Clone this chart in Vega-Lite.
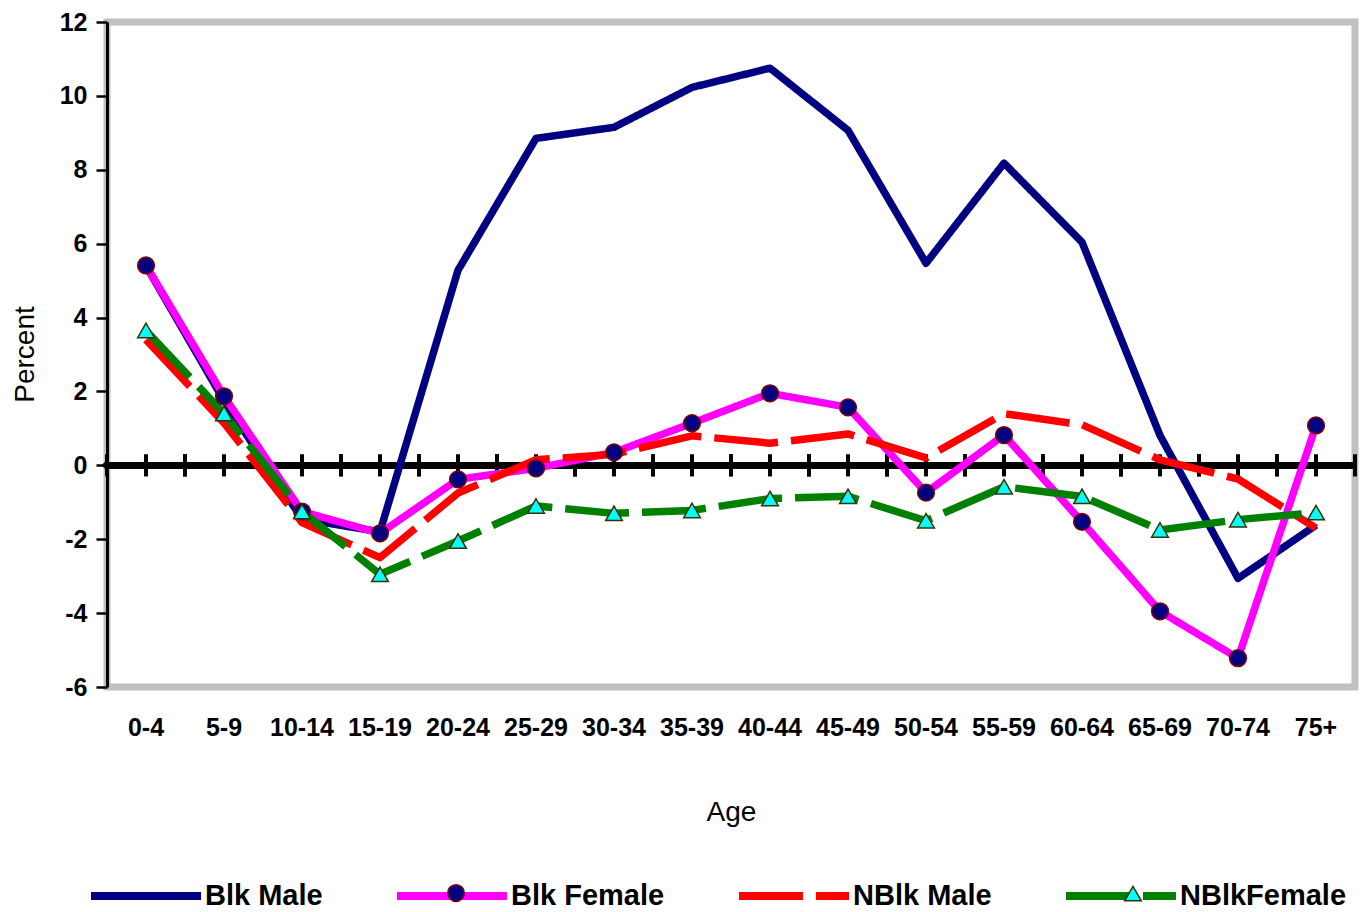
{
  "$schema": "https://vega.github.io/schema/vega-lite/v6.json",
  "width": 1248,
  "height": 665,
  "autosize": "none",
  "padding": {"left": 107, "top": 22, "right": 7, "bottom": 225},
  "background": "white",
  "config": {
    "font": "Liberation Sans",
    "view": {"stroke": "#C0C0C0", "strokeWidth": 7},
    "axis": {
      "grid": false,
      "labelFont": "Liberation Sans",
      "labelFontWeight": "bold",
      "labelFontSize": 25,
      "labelColor": "black",
      "titleFont": "Liberation Sans",
      "titleFontWeight": "normal",
      "titleFontSize": 28,
      "titleColor": "black"
    },
    "axisX": {"domain": false, "ticks": false, "tickSize": 0, "labelPadding": 28, "labelAngle": 0, "titleY": 125, "titleBaseline": "middle"},
    "axisY": {"domainColor": "black", "domainWidth": 3, "tickColor": "black", "tickWidth": 2.5, "tickSize": 11, "labelPadding": 9, "titleX": -82, "titleY": 332, "titleBaseline": "middle", "titleAngle": -90}
  },
  "data": {
    "values": [
      {"Age": "0-4", "series": "Blk Male", "Percent": 5.4},
      {"Age": "5-9", "series": "Blk Male", "Percent": 1.75},
      {"Age": "10-14", "series": "Blk Male", "Percent": -1.45},
      {"Age": "15-19", "series": "Blk Male", "Percent": -1.8},
      {"Age": "20-24", "series": "Blk Male", "Percent": 5.28},
      {"Age": "25-29", "series": "Blk Male", "Percent": 8.85},
      {"Age": "30-34", "series": "Blk Male", "Percent": 9.15},
      {"Age": "35-39", "series": "Blk Male", "Percent": 10.23},
      {"Age": "40-44", "series": "Blk Male", "Percent": 10.75},
      {"Age": "45-49", "series": "Blk Male", "Percent": 9.07},
      {"Age": "50-54", "series": "Blk Male", "Percent": 5.47},
      {"Age": "55-59", "series": "Blk Male", "Percent": 8.18},
      {"Age": "60-64", "series": "Blk Male", "Percent": 6.04},
      {"Age": "65-69", "series": "Blk Male", "Percent": 0.81},
      {"Age": "70-74", "series": "Blk Male", "Percent": -3.06},
      {"Age": "75+", "series": "Blk Male", "Percent": -1.62},
      {"Age": "0-4", "series": "Blk Female", "Percent": 5.41},
      {"Age": "5-9", "series": "Blk Female", "Percent": 1.87},
      {"Age": "10-14", "series": "Blk Female", "Percent": -1.25},
      {"Age": "15-19", "series": "Blk Female", "Percent": -1.84},
      {"Age": "20-24", "series": "Blk Female", "Percent": -0.38},
      {"Age": "25-29", "series": "Blk Female", "Percent": -0.08},
      {"Age": "30-34", "series": "Blk Female", "Percent": 0.35},
      {"Age": "35-39", "series": "Blk Female", "Percent": 1.14},
      {"Age": "40-44", "series": "Blk Female", "Percent": 1.95},
      {"Age": "45-49", "series": "Blk Female", "Percent": 1.57},
      {"Age": "50-54", "series": "Blk Female", "Percent": -0.74},
      {"Age": "55-59", "series": "Blk Female", "Percent": 0.82},
      {"Age": "60-64", "series": "Blk Female", "Percent": -1.53},
      {"Age": "65-69", "series": "Blk Female", "Percent": -3.95},
      {"Age": "70-74", "series": "Blk Female", "Percent": -5.22},
      {"Age": "75+", "series": "Blk Female", "Percent": 1.08},
      {"Age": "0-4", "series": "NBlk Male", "Percent": 3.4},
      {"Age": "5-9", "series": "NBlk Male", "Percent": 1.15},
      {"Age": "10-14", "series": "NBlk Male", "Percent": -1.55},
      {"Age": "15-19", "series": "NBlk Male", "Percent": -2.5},
      {"Age": "20-24", "series": "NBlk Male", "Percent": -0.75},
      {"Age": "25-29", "series": "NBlk Male", "Percent": 0.15},
      {"Age": "30-34", "series": "NBlk Male", "Percent": 0.3},
      {"Age": "35-39", "series": "NBlk Male", "Percent": 0.8},
      {"Age": "40-44", "series": "NBlk Male", "Percent": 0.6},
      {"Age": "45-49", "series": "NBlk Male", "Percent": 0.85},
      {"Age": "50-54", "series": "NBlk Male", "Percent": 0.2},
      {"Age": "55-59", "series": "NBlk Male", "Percent": 1.4},
      {"Age": "60-64", "series": "NBlk Male", "Percent": 1.1},
      {"Age": "65-69", "series": "NBlk Male", "Percent": 0.15},
      {"Age": "70-74", "series": "NBlk Male", "Percent": -0.37},
      {"Age": "75+", "series": "NBlk Male", "Percent": -1.7},
      {"Age": "0-4", "series": "NBlkFemale", "Percent": 3.65},
      {"Age": "5-9", "series": "NBlkFemale", "Percent": 1.4},
      {"Age": "10-14", "series": "NBlkFemale", "Percent": -1.25},
      {"Age": "15-19", "series": "NBlkFemale", "Percent": -2.95},
      {"Age": "20-24", "series": "NBlkFemale", "Percent": -2.05},
      {"Age": "25-29", "series": "NBlkFemale", "Percent": -1.1},
      {"Age": "30-34", "series": "NBlkFemale", "Percent": -1.3},
      {"Age": "35-39", "series": "NBlkFemale", "Percent": -1.22},
      {"Age": "40-44", "series": "NBlkFemale", "Percent": -0.9},
      {"Age": "45-49", "series": "NBlkFemale", "Percent": -0.84},
      {"Age": "50-54", "series": "NBlkFemale", "Percent": -1.5},
      {"Age": "55-59", "series": "NBlkFemale", "Percent": -0.58},
      {"Age": "60-64", "series": "NBlkFemale", "Percent": -0.84},
      {"Age": "65-69", "series": "NBlkFemale", "Percent": -1.75},
      {"Age": "70-74", "series": "NBlkFemale", "Percent": -1.47},
      {"Age": "75+", "series": "NBlkFemale", "Percent": -1.28}
    ]
  },
  "layer": [
    {
      "mark": {"type": "rule", "color": "black", "strokeWidth": 6},
      "encoding": {"y": {"datum": 0, "type": "quantitative"}}
    },
    {
      "transform": [{"filter": "datum.series === 'Blk Male'"}],
      "mark": {"type": "rule", "color": "black", "strokeWidth": 4},
      "encoding": {
        "x": {"field": "Age", "type": "ordinal", "sort": null, "bandPosition": 0, "scale": {"type": "band", "paddingInner": 0, "paddingOuter": 0}},
        "y": {"datum": -0.3, "type": "quantitative"},
        "y2": {"datum": 0.3}
      }
    },
    {
      "transform": [{"filter": "datum.series === 'Blk Male'"}],
      "mark": {"type": "rule", "color": "black", "strokeWidth": 4},
      "encoding": {
        "x": {"field": "Age", "type": "ordinal", "sort": null, "bandPosition": 0.5, "scale": {"type": "band", "paddingInner": 0, "paddingOuter": 0}},
        "y": {"datum": -0.3, "type": "quantitative"},
        "y2": {"datum": 0.3}
      }
    },
    {
      "transform": [{"filter": "datum.series === 'Blk Male'"}],
      "mark": {"type": "rule", "color": "black", "strokeWidth": 4},
      "encoding": {
        "x": {"field": "Age", "type": "ordinal", "sort": null, "bandPosition": 1, "scale": {"type": "band", "paddingInner": 0, "paddingOuter": 0}},
        "y": {"datum": -0.3, "type": "quantitative"},
        "y2": {"datum": 0.3}
      }
    },
    {
      "transform": [{"filter": "datum.series === 'Blk Male'"}],
      "mark": {"type": "point", "shape": "diamond", "filled": true, "color": "black", "size": 120, "opacity": 1},
      "encoding": {
        "x": {"field": "Age", "type": "ordinal", "sort": null, "bandPosition": 0, "scale": {"type": "band", "paddingInner": 0, "paddingOuter": 0}},
        "y": {"datum": 0, "type": "quantitative"}
      }
    },
    {
      "transform": [{"filter": "datum.series === 'Blk Male'"}],
      "mark": {"type": "point", "shape": "diamond", "filled": true, "color": "black", "size": 120, "opacity": 1},
      "encoding": {
        "x": {"field": "Age", "type": "ordinal", "sort": null, "bandPosition": 0.5, "scale": {"type": "band", "paddingInner": 0, "paddingOuter": 0}},
        "y": {"datum": 0, "type": "quantitative"}
      }
    },
    {
      "mark": {"type": "line", "strokeWidth": 7.5, "strokeCap": "butt", "strokeJoin": "round"},
      "encoding": {
        "x": {"field": "Age", "type": "ordinal", "sort": null, "scale": {"type": "band", "paddingInner": 0, "paddingOuter": 0}},
        "y": {"field": "Percent", "type": "quantitative", "scale": {"domain": [-6, 12], "nice": false, "zero": false}, "axis": {"values": [-6, -4, -2, 0, 2, 4, 6, 8, 10, 12], "labelExpr": "'' + datum.value"}},
        "color": {
          "field": "series", "type": "nominal",
          "scale": {"domain": ["Blk Male", "Blk Female", "NBlk Male", "NBlkFemale"], "range": ["#000080", "#FF00FF", "#FF0000", "#008000"]},
          "legend": {
            "title": null, "orient": "none", "legendX": -20, "legendY": 815, "direction": "horizontal", "columns": 4,
            "columnPadding": 58, "symbolType": "stroke", "symbolSize": 12100, "symbolStrokeWidth": 8,
            "labelFont": "Liberation Sans", "labelFontSize": 29, "labelFontWeight": "bold", "labelColor": "black",
            "labelOffset": 0, "padding": 0, "labelLimit": 400
          }
        },
        "strokeDash": {
          "field": "series", "type": "nominal",
          "scale": {"domain": ["Blk Male", "Blk Female", "NBlk Male", "NBlkFemale"], "range": [[1, 0], [1, 0], [64, 13], [64, 13]]},
          "legend": {
            "title": null, "orient": "none", "legendX": -20, "legendY": 815, "direction": "horizontal", "columns": 4,
            "columnPadding": 58, "symbolType": "stroke", "symbolSize": 12100, "symbolStrokeWidth": 8,
            "labelFont": "Liberation Sans", "labelFontSize": 29, "labelFontWeight": "bold", "labelColor": "black",
            "labelOffset": 0, "padding": 0, "labelLimit": 400
          }
        }
      }
    },
    {
      "transform": [{"filter": "datum.series === 'Blk Female' || datum.series === 'NBlkFemale'"}],
      "mark": {"type": "point", "filled": true, "opacity": 1, "strokeWidth": 1.5, "size": 280},
      "encoding": {
        "x": {"field": "Age", "type": "ordinal", "sort": null, "scale": {"type": "band", "paddingInner": 0, "paddingOuter": 0}},
        "y": {"field": "Percent", "type": "quantitative"},
        "shape": {"field": "series", "type": "nominal", "scale": {"domain": ["Blk Female", "NBlkFemale"], "range": ["circle", "triangle-up"]},
          "legend": {"title": null, "orient": "none", "legendX": 339.5, "legendY": 861.5, "direction": "horizontal", "columns": 2,
            "columnPadding": 650, "symbolSize": 280, "symbolStrokeWidth": 1.5, "labelFontSize": 1, "labelOpacity": 0, "labelOffset": 0, "padding": 0}},
        "fill": {"field": "series", "type": "nominal", "scale": {"domain": ["Blk Female", "NBlkFemale"], "range": ["#000080", "#00FFFF"]},
          "legend": {"title": null, "orient": "none", "legendX": 339.5, "legendY": 861.5, "direction": "horizontal", "columns": 2,
            "columnPadding": 650, "symbolSize": 280, "symbolStrokeWidth": 1.5, "labelFontSize": 1, "labelOpacity": 0, "labelOffset": 0, "padding": 0}},
        "stroke": {"field": "series", "type": "nominal", "scale": {"domain": ["Blk Female", "NBlkFemale"], "range": ["#800000", "#333300"]},
          "legend": {"title": null, "orient": "none", "legendX": 339.5, "legendY": 861.5, "direction": "horizontal", "columns": 2,
            "columnPadding": 650, "symbolSize": 280, "symbolStrokeWidth": 1.5, "labelFontSize": 1, "labelOpacity": 0, "labelOffset": 0, "padding": 0}}
      }
    }
  ]
}
